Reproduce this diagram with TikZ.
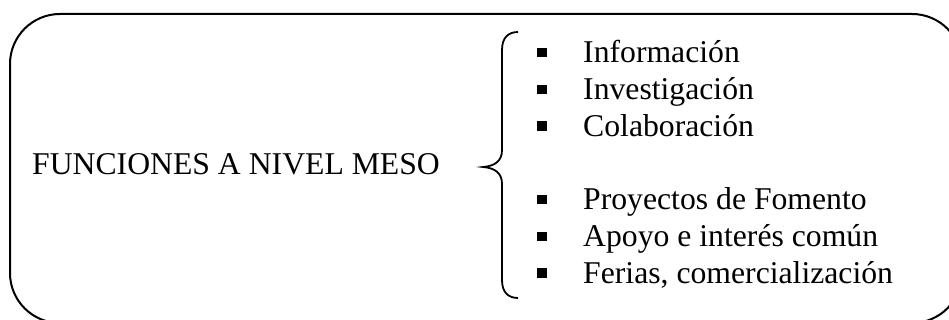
\documentclass[tikz,border=0pt]{standalone}
\usepackage{fontspec}
\setmainfont{Liberation Serif}
\begin{document}
\begin{tikzpicture}[x=1pt,y=-1pt,
  lbl/.style={inner sep=0pt,anchor=base west,font=\fontsize{31.7}{36}\selectfont},
  sqbullet/.style={draw=none,fill=black,minimum size=9.5pt,inner sep=0pt},
  frame/.style={draw=black,line width=2pt,rounded corners=50pt},
  curly/.style={draw=black,line width=1.8pt}]
  \useasboundingbox (0,0) rectangle (949,320);
  \clip (0,0) rectangle (949,320);
  % outer rounded frame, running past the right and bottom edges
  \draw[frame] (10,14) rectangle (962,323);
  % heading
  \node[lbl] (title) at (32,175) {FUNCIONES A NIVEL MESO};
  % left curly brace
  \draw[curly] (518,32) .. controls (508,32) and (502,38) .. (502,50)
    -- (502,150) .. controls (502,161) and (495,166) .. (483,167)
    .. controls (495,168) and (502,173) .. (502,184)
    -- (502,280) .. controls (502,292) and (508,298) .. (518,298);
  % bullet list
  \foreach \name/\yb/\txt in {
      i1/63/{Información},
      i2/100/{Investigación},
      i3/136.5/{Colaboración},
      i4/210/{Proyectos de Fomento},
      i5/247/{Apoyo e interés común},
      i6/283.5/{Ferias, comercialización}}{
    \node[sqbullet] (b\name) at (542,\yb-10.5) {};
    \node[lbl] (\name) at (583,\yb) {\txt};
  }
\end{tikzpicture}
\end{document}
